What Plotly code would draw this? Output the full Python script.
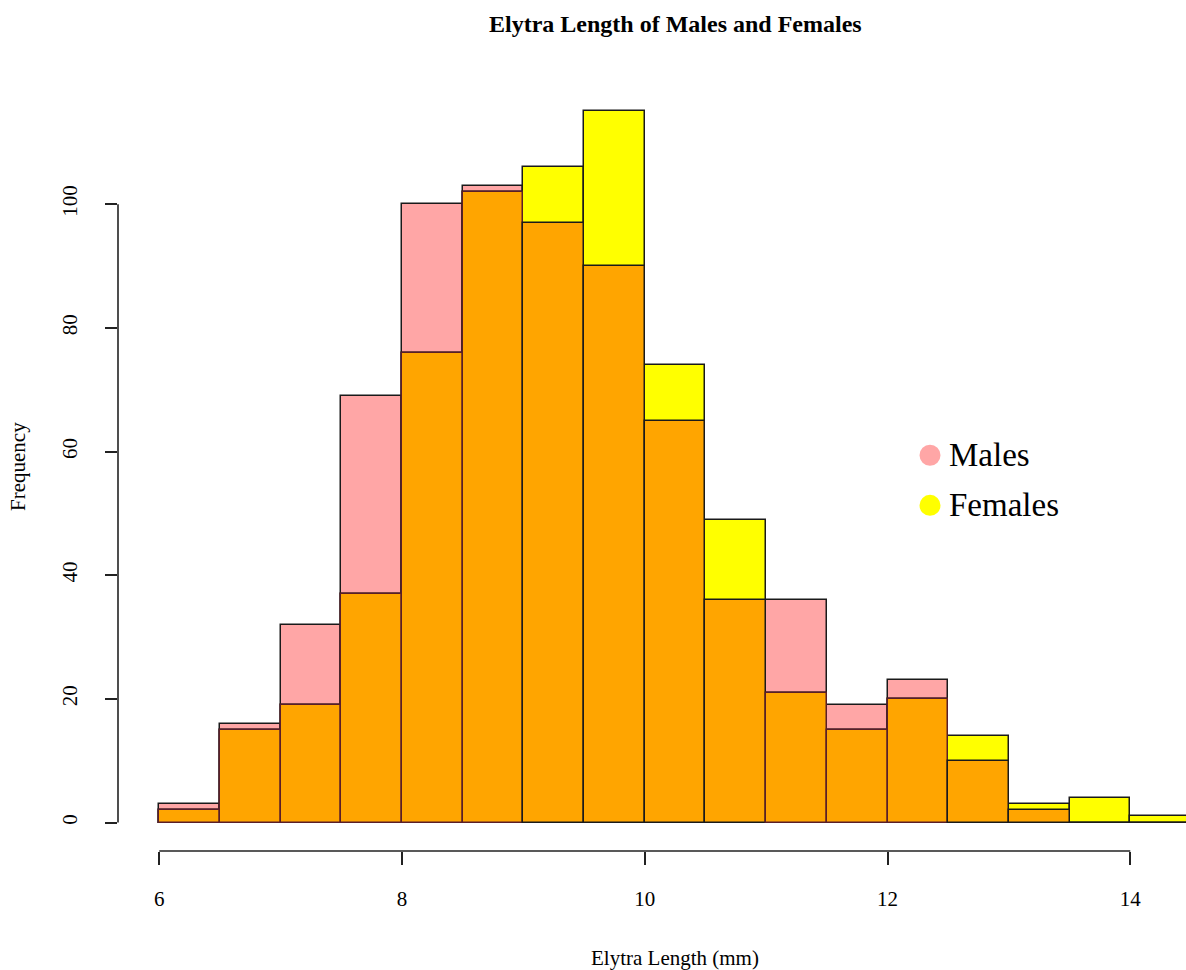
import numpy as np
import plotly.graph_objects as go

# Histogram bins (mm) and counts per bin
bin_edges = [6.0, 6.5, 7.0, 7.5, 8.0, 8.5, 9.0, 9.5, 10.0, 10.5, 11.0,
             11.5, 12.0, 12.5, 13.0, 13.5, 14.0, 14.5]
males = [3, 16, 32, 69, 100, 103, 97, 90, 65, 36, 36, 19, 23, 10, 2, 0, 0]
females = [2, 15, 19, 37, 76, 102, 106, 115, 74, 49, 21, 15, 20, 14, 3, 4, 1]
x_ticks = [6, 8, 10, 12, 14]
y_ticks = [0, 20, 40, 60, 80, 100]

edges = np.array(bin_edges)
centers = (edges[:-1] + edges[1:]) / 2
widths = np.diff(edges)
m = np.array(males)
f = np.array(females)
overlap = np.minimum(m, f)

PINK = "#FFA6A6"
YELLOW = "#FFFF00"
ORANGE = "#FFA500"
EDGE = "#1a1a1a"
FONT = "Liberation Serif, Times New Roman, serif"

# R-style plot region: data range padded by 4%
x_lo = edges[0] - 0.04 * (edges[-1] - edges[0])
x_hi_full = edges[-1] + 0.04 * (edges[-1] - edges[0])
y_max = max(max(males), max(females))
y_lo, y_hi = -0.04 * y_max, 1.04 * y_max

W, H = 1186, 970
ML, MR, MT, MB = 118, 0, 83, 119
px_per_unit = 121.375
x_hi = x_lo + (W - ML - MR) / px_per_unit

fig = go.Figure()
fig.add_trace(go.Bar(x=centers, y=m, width=widths, name="Males",
                     marker=dict(color=PINK, line=dict(color=EDGE, width=1.5)),
                     showlegend=False))
fig.add_trace(go.Bar(x=centers, y=f, width=widths, name="Females",
                     marker=dict(color=YELLOW, line=dict(color=EDGE, width=1.5)),
                     showlegend=False))
overlap_edge = ["#5a1e28" if mv > fv else EDGE for mv, fv in zip(males, females)]
fig.add_trace(go.Bar(x=centers, y=overlap, width=widths, name="Both",
                     marker=dict(color=ORANGE, line=dict(color=overlap_edge, width=1.5)),
                     showlegend=False))

shapes = [
    # detached axis lines, spanning the tick range only
    dict(type="line", xref="x", yref="paper", x0=x_ticks[0], x1=x_ticks[-1], y0=0, y1=0,
         line=dict(color="#222", width=1.6)),
    dict(type="line", xref="paper", yref="y", x0=0, x1=0, y0=y_ticks[0], y1=y_ticks[-1],
         line=dict(color="#222", width=1.6)),
]

# legend: colored dots with labels
legend_items = [("Males", PINK, 59.4), ("Females", YELLOW, 51.3)]
annotations = []
for label, col, ly in legend_items:
    shapes.append(dict(type="circle", xref="x", yref="y", xsizemode="pixel", ysizemode="pixel",
                       xanchor=12.35, yanchor=ly, x0=-10.5, x1=10.5, y0=-10.5, y1=10.5,
                       fillcolor=col, line=dict(width=0)))
    annotations.append(dict(x=12.49, y=ly, xref="x", yref="y", text=label, showarrow=False,
                            xanchor="left", yanchor="middle",
                            font=dict(family=FONT, size=33, color="#000")))

x_mid = (x_lo + x_hi_full) / 2
annotations += [
    dict(x=x_mid, y=1, xref="x", yref="paper", yshift=59, text="<b>Elytra Length of Males and Females</b>",
         showarrow=False, xanchor="center", yanchor="middle",
         font=dict(family=FONT, size=24, color="#000")),
    dict(x=x_mid, y=0, xref="x", yref="paper", yshift=-107, text="Elytra Length (mm)",
         showarrow=False, xanchor="center", yanchor="middle",
         font=dict(family=FONT, size=21, color="#000")),
    dict(x=0, y=(y_lo + y_hi) / 2, xref="paper", yref="y", xshift=-100, text="Frequency",
         textangle=-90, showarrow=False, xanchor="center", yanchor="middle",
         font=dict(family=FONT, size=21, color="#000")),
]

fig.update_layout(
    width=W, height=H,
    margin=dict(l=ML, r=MR, t=MT, b=MB, pad=0),
    barmode="overlay", bargap=0,
    plot_bgcolor="white", paper_bgcolor="white",
    font=dict(family=FONT, size=21, color="#000"),
    shapes=shapes, annotations=annotations,
    xaxis=dict(range=[x_lo, x_hi], tickvals=x_ticks, ticks="outside", ticklen=13,
               tickwidth=1.6, tickcolor="#222", showgrid=False, zeroline=False,
               showline=False, ticklabelstandoff=16,
               tickfont=dict(family=FONT, size=21, color="#000")),
    yaxis=dict(range=[y_lo, y_hi], tickvals=y_ticks, ticks="outside", ticklen=12,
               tickwidth=1.6, tickcolor="#222", showgrid=False, zeroline=False,
               showline=False, tickangle=-90, ticklabelstandoff=20,
               tickfont=dict(family=FONT, size=21, color="#000")),
)

fig.write_html("out.html")
